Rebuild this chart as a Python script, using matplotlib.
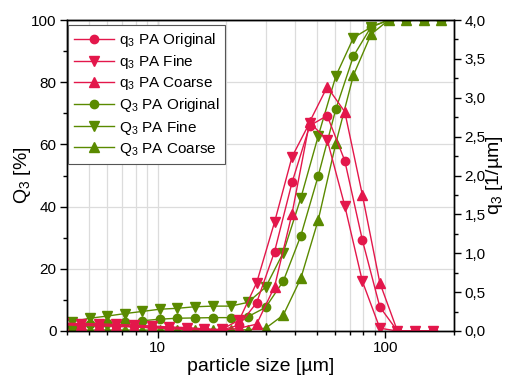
import matplotlib
matplotlib.use("Agg")
import matplotlib.pyplot as plt
from matplotlib.ticker import LogLocator, NullFormatter, FixedLocator, MultipleLocator, FuncFormatter

plt.rcParams['font.family'] = ['Liberation Sans', 'DejaVu Sans']
plt.rcParams['mathtext.fontset'] = 'custom'
plt.rcParams['mathtext.rm'] = 'Liberation Sans'
plt.rcParams['mathtext.it'] = 'Liberation Sans'

# cumulative distribution Q3 [%] at upper class edges
x_Q3 = [4.21, 5.03, 6.01, 7.18, 8.58, 10.2, 12.2, 14.6, 17.5, 20.9, 24.9,
        29.8, 35.6, 42.5, 50.7, 60.6, 72.4, 86.5, 103.3, 123.4, 147.4, 176.1]
Q3_original = [1.4, 2.2, 2.5, 2.8, 3.3, 3.8, 4.1, 4.2, 4.3, 4.3, 4.6,
               7.6, 16.0, 30.6, 49.9, 71.4, 88.4, 97.8, 100, 100, 100, 100]
Q3_fine = [3.0, 4.1, 4.8, 5.6, 6.3, 7.0, 7.3, 7.8, 8.0, 8.0, 9.2,
           14.1, 25.2, 42.7, 62.7, 82.0, 94.3, 97.7, 100, 100, 100, 100]
Q3_coarse = [0.3, 0.3, 0.3, 0.3, 0.3, 0.3, 0.3, 0.3, 0.3, 0.3, 0.4,
             0.9, 5.1, 16.9, 35.7, 60.4, 82.3, 95.4, 100, 100, 100, 100]

# density distribution q3 [1/um] at class centres
x_q3 = [3.85, 4.6, 5.5, 6.57, 7.85, 9.4, 11.2, 13.4, 16.0, 19.1, 22.8,
        27.2, 32.6, 38.9, 46.5, 55.5, 66.3, 79.2, 94.5, 112.9, 134.9, 161.0]
q3_original = [0.088, 0.080, 0.076, 0.068, 0.060, 0.052, 0.040, 0.032, 0.020, 0.012, 0.076,
               0.364, 1.02, 1.91, 2.64, 2.77, 2.19, 1.17, 0.31, 0.0, 0.0, 0.0]
q3_fine = [0.100, 0.096, 0.092, 0.084, 0.076, 0.064, 0.052, 0.044, 0.028, 0.020, 0.14,
           0.62, 1.40, 2.24, 2.68, 2.46, 1.61, 0.64, 0.036, 0.0, 0.0, 0.0]
q3_coarse = [0.080, 0.072, 0.068, 0.060, 0.052, 0.040, 0.032, 0.020, 0.012, 0.008, 0.036,
             0.088, 0.57, 1.51, 2.69, 3.14, 2.82, 1.75, 0.62, 0.0, 0.0, 0.0]

xlim = (4, 200)
x_ticks = [10, 100]
y_ticks_left = [0, 20, 40, 60, 80, 100]
y_ticks_right = [0, 0.5, 1.0, 1.5, 2.0, 2.5, 3.0, 3.5, 4.0]

red = '#E3174B'
green = '#5A8A00'

fig = plt.figure(figsize=(5.10, 3.83), dpi=100)
ax = fig.add_axes([67/510, 52/383, (454-67)/510, (331-20)/383])
ax2 = ax.twinx()

ms = 6
lw = 1.0
h1, = ax2.plot(x_q3, q3_original, '-o', color=red, lw=lw, ms=ms, label='q$_3$ PA Original')
h2, = ax2.plot(x_q3, q3_fine, '-v', color=red, lw=lw, ms=ms + 1, label='q$_3$ PA Fine')
h3, = ax2.plot(x_q3, q3_coarse, '-^', color=red, lw=lw, ms=ms + 1, label='q$_3$ PA Coarse')
h4, = ax.plot(x_Q3, Q3_original, '-o', color=green, lw=lw, ms=ms, label='Q$_3$ PA Original')
h5, = ax.plot(x_Q3, Q3_fine, '-v', color=green, lw=lw, ms=ms + 1, label='Q$_3$ PA Fine')
h6, = ax.plot(x_Q3, Q3_coarse, '-^', color=green, lw=lw, ms=ms + 1, label='Q$_3$ PA Coarse')

ax.set_xscale('log')
ax.set_xlim(*xlim)
ax.set_ylim(0, 100)
ax2.set_ylim(0, 4)

ax.xaxis.set_major_locator(FixedLocator(x_ticks))
ax.xaxis.set_major_formatter(FuncFormatter(lambda v, p: f'{v:g}'))
ax.xaxis.set_minor_locator(LogLocator(base=10, subs=range(2, 10)))
ax.xaxis.set_minor_formatter(NullFormatter())
ax.yaxis.set_major_locator(FixedLocator(y_ticks_left))
ax.yaxis.set_minor_locator(MultipleLocator(10))
ax2.yaxis.set_major_locator(FixedLocator(y_ticks_right))
ax2.yaxis.set_major_formatter(FuncFormatter(lambda v, p: f'{v:.1f}'.replace('.', ',')))
ax2.yaxis.set_minor_locator(MultipleLocator(0.25))

ax.grid(True, which='both', axis='x', color='#dcdcdc', lw=0.9)
ax.grid(True, which='major', axis='y', color='#dcdcdc', lw=0.9)
ax.set_axisbelow(True)

for a in (ax, ax2):
    a.tick_params(which='major', length=5, width=1, labelsize=11, direction='out', pad=2.5)
    a.tick_params(which='minor', length=3, width=1, direction='out')
    for s in a.spines.values():
        s.set_linewidth(1.0)
        s.set_color('black')

top = ax.secondary_xaxis('top')
top.xaxis.set_major_locator(FixedLocator(x_ticks))
top.xaxis.set_minor_locator(LogLocator(base=10, subs=range(2, 10)))
top.tick_params(which='major', direction='in', length=5, labeltop=False)
top.tick_params(which='minor', direction='in', length=3)
top.xaxis.set_minor_formatter(NullFormatter())

ax.set_xlabel('particle size [µm]', fontsize=14, labelpad=2)
ax.set_ylabel('Q$_3$ [%]', fontsize=14)
ax2.set_ylabel('q$_3$ [1/µm]', fontsize=14)
ax.yaxis.set_label_coords(-0.088, 0.5)
ax2.yaxis.set_label_coords(1.078, 0.5)

leg = ax2.legend(handles=[h1, h2, h3, h4, h5, h6], loc='upper left',
                 bbox_to_anchor=(0.003, 0.984), fontsize=11, frameon=True,
                 fancybox=False, edgecolor='#555555', framealpha=1,
                 handlelength=2.6, handletextpad=0.3, labelspacing=0.27,
                 borderpad=0.4, borderaxespad=0.0)
leg.get_frame().set_linewidth(0.8)

fig.savefig('out.png', dpi=100)
